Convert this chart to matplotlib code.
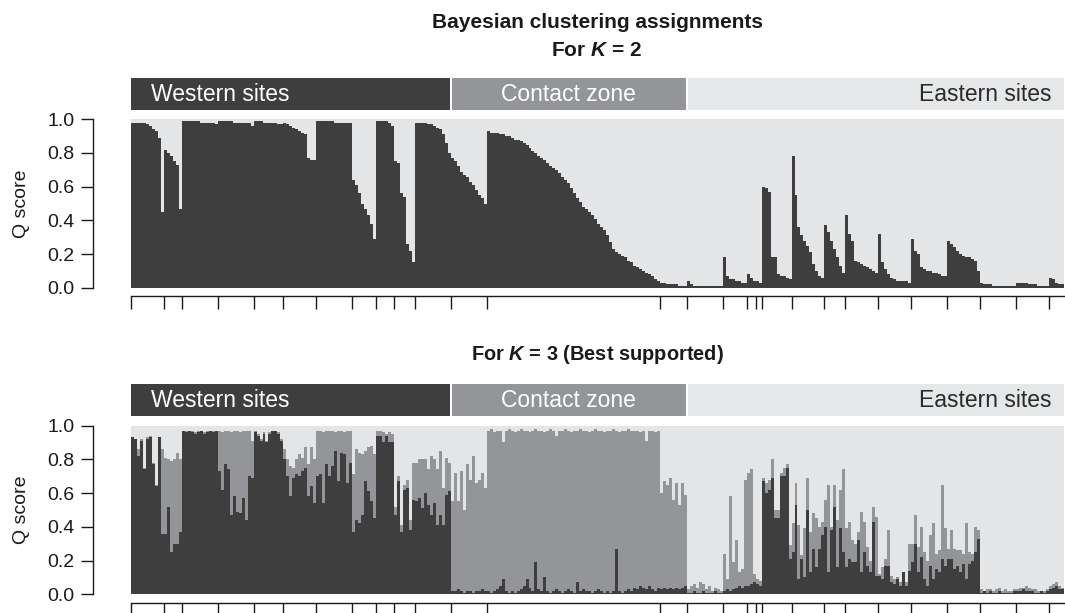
import numpy as np
import matplotlib
matplotlib.use("Agg")
import matplotlib.pyplot as plt
from matplotlib.patches import Rectangle

plt.rcParams['font.family'] = ['Liberation Sans', 'DejaVu Sans']
plt.rcParams['mathtext.fontset'] = 'custom'
plt.rcParams['mathtext.it'] = 'Liberation Sans:italic:bold'
plt.rcParams['mathtext.rm'] = 'Liberation Sans:bold'
plt.rcParams['mathtext.bf'] = 'Liberation Sans:bold'

# ---------------- data (one inner list per sampling site, west -> east) ----------
# K = 2 : membership (Q) in the western cluster
k2_west = [
    [0.98, 0.98, 0.98, 0.98, 0.98, 0.97, 0.96, 0.94, 0.93, 0.89, 0.45],
    [0.82, 0.80, 0.78, 0.75, 0.73, 0.47],
    [0.99, 0.99, 0.99, 0.99, 0.99, 0.99, 0.98, 0.98, 0.98, 0.98, 0.98, 0.97],
    [0.99, 0.99, 0.99, 0.99, 0.99, 0.98, 0.98, 0.98, 0.98, 0.98, 0.98, 0.96],
    [0.99, 0.99, 0.99, 0.98, 0.98, 0.98, 0.98, 0.98, 0.97, 0.97],
    [0.98, 0.97, 0.96, 0.95, 0.94, 0.93, 0.92, 0.91, 0.77, 0.76, 0.76],
    [0.99, 0.99, 0.99, 0.99, 0.99, 0.99, 0.98, 0.98, 0.98, 0.98, 0.98, 0.98],
    [0.64, 0.61, 0.56, 0.50, 0.47, 0.43, 0.38, 0.29],
    [0.99, 0.99, 0.99, 0.99, 0.98, 0.96],
    [0.75, 0.74, 0.56, 0.54, 0.26, 0.22, 0.15],
    [0.98, 0.98, 0.98, 0.98, 0.97, 0.97, 0.96, 0.95, 0.94, 0.91, 0.86, 0.80],
    [0.77, 0.75, 0.72, 0.69, 0.67, 0.66, 0.63, 0.61, 0.58, 0.55, 0.53, 0.50],
    [0.93, 0.92, 0.92, 0.92, 0.91, 0.91, 0.90, 0.90, 0.89, 0.88,
     0.88, 0.87, 0.86, 0.85, 0.83, 0.81, 0.80, 0.78, 0.77, 0.76,
     0.74, 0.72, 0.71, 0.70, 0.68, 0.66, 0.64, 0.62, 0.59, 0.56,
     0.53, 0.51, 0.48, 0.47, 0.45, 0.43, 0.41, 0.38, 0.36, 0.34,
     0.31, 0.27, 0.23, 0.21, 0.20, 0.19, 0.18, 0.16, 0.15, 0.13,
     0.12, 0.11, 0.10, 0.09, 0.08, 0.07, 0.05, 0.04],
    [0.03, 0.03, 0.02, 0.02, 0.02, 0.02, 0.01, 0.01, 0.01],
    [0.04, 0.02, 0.01, 0.01, 0.01, 0.01, 0.01, 0.01, 0.01, 0.01, 0.01, 0.01],
    [0.18, 0.07, 0.05, 0.05, 0.04, 0.04, 0.03, 0.03],
    [0.08, 0.06, 0.04],
    [0.04, 0.03],
    [0.60, 0.59, 0.57, 0.18, 0.18, 0.08, 0.07, 0.07, 0.06, 0.05],
    [0.78, 0.55, 0.36, 0.31, 0.28, 0.25, 0.21, 0.14, 0.10, 0.07, 0.06],
    [0.37, 0.33, 0.28, 0.23, 0.18, 0.13, 0.09],
    [0.43, 0.32, 0.28, 0.16, 0.15, 0.14, 0.13, 0.12, 0.11, 0.10, 0.09],
    [0.32, 0.15, 0.11, 0.08, 0.06, 0.05, 0.04, 0.04, 0.04, 0.04, 0.03],
    [0.29, 0.22, 0.20, 0.12, 0.11, 0.10, 0.10, 0.09, 0.09, 0.08, 0.07, 0.07],
    [0.28, 0.26, 0.24, 0.22, 0.20, 0.19, 0.18, 0.18, 0.17, 0.16, 0.10],
    [0.03, 0.02, 0.02, 0.02, 0.01, 0.01, 0.01, 0.01, 0.01, 0.01, 0.01, 0.01],
    [0.03, 0.03, 0.03, 0.03, 0.02, 0.02, 0.02, 0.01, 0.01, 0.01, 0.01],
    [0.06, 0.05, 0.03, 0.02, 0.02],
]

# K = 3 : membership in cluster 1 (western, dark)
k3_cluster1 = [
    [0.93, 0.92, 0.82, 0.91, 0.74, 0.92, 0.93, 0.77, 0.64, 0.93, 0.36],
    [0.36, 0.52, 0.25, 0.30, 0.30, 0.37],
    [0.97, 0.96, 0.97, 0.96, 0.95, 0.96, 0.97, 0.95, 0.96, 0.97, 0.96, 0.97],
    [0.73, 0.62, 0.77, 0.74, 0.47, 0.58, 0.49, 0.48, 0.57, 0.44, 0.70, 0.69],
    [0.96, 0.94, 0.91, 0.95, 0.90, 0.95, 0.97, 0.97, 0.95, 0.91],
    [0.80, 0.70, 0.58, 0.69, 0.71, 0.70, 0.73, 0.75, 0.58, 0.64, 0.54],
    [0.70, 0.71, 0.54, 0.77, 0.70, 0.76, 0.85, 0.67, 0.84, 0.83, 0.66, 0.78],
    [0.37, 0.44, 0.42, 0.47, 0.67, 0.61, 0.55, 0.45],
    [0.94, 0.94, 0.90, 0.94, 0.90, 0.90],
    [0.47, 0.67, 0.37, 0.62, 0.63, 0.38, 0.56],
    [0.55, 0.57, 0.51, 0.60, 0.53, 0.47, 0.54, 0.41, 0.47, 0.41, 0.59, 0.61],
    [0.02, 0.02, 0.03, 0.02, 0.01, 0.02, 0.02, 0.01, 0.02, 0.02, 0.03, 0.02],
    [0.02, 0.01, 0.02, 0.03, 0.05, 0.09, 0.02, 0.01, 0.02, 0.01,
     0.02, 0.03, 0.05, 0.09, 0.04, 0.02, 0.19, 0.03, 0.02, 0.10,
     0.02, 0.01, 0.02, 0.03, 0.02, 0.01, 0.02, 0.03, 0.02, 0.01,
     0.07, 0.02, 0.03, 0.02, 0.02, 0.01, 0.02, 0.03, 0.02, 0.01,
     0.02, 0.01, 0.02, 0.27, 0.02, 0.01, 0.02, 0.03, 0.02, 0.04,
     0.03, 0.05, 0.04, 0.03, 0.05, 0.03, 0.02, 0.04],
    [0.03, 0.04, 0.03, 0.04, 0.03, 0.04, 0.03, 0.04, 0.05],
    [0.01, 0.01, 0.02, 0.01, 0.01, 0.02, 0.01, 0.01, 0.01, 0.02, 0.01, 0.01],
    [0.02, 0.03, 0.02, 0.03, 0.04, 0.05, 0.04, 0.05],
    [0.05, 0.06, 0.07],
    [0.06, 0.05],
    [0.67, 0.60, 0.62, 0.69, 0.45, 0.45, 0.70, 0.70, 0.75, 0.21],
    [0.25, 0.53, 0.09, 0.21, 0.10, 0.50, 0.13, 0.27, 0.16, 0.27, 0.35],
    [0.40, 0.13, 0.38, 0.52, 0.16, 0.39, 0.25],
    [0.16, 0.21, 0.19, 0.19, 0.32, 0.13, 0.25, 0.17, 0.13, 0.43, 0.11],
    [0.11, 0.09, 0.17, 0.17, 0.07, 0.06, 0.09, 0.05, 0.13, 0.05, 0.14],
    [0.19, 0.30, 0.13, 0.22, 0.09, 0.05, 0.17, 0.09, 0.15, 0.13, 0.21, 0.17],
    [0.21, 0.21, 0.15, 0.17, 0.13, 0.18, 0.09, 0.18, 0.20, 0.25, 0.33],
    [0.01, 0.02, 0.01, 0.02, 0.01, 0.01, 0.02, 0.01, 0.01, 0.01, 0.01, 0.02],
    [0.02, 0.02, 0.03, 0.02, 0.02, 0.02, 0.01, 0.01, 0.02, 0.01, 0.02],
    [0.03, 0.04, 0.05, 0.03, 0.03],
]

# K = 3 : cumulative membership in clusters 1 + 2 (top of the mid-grey band)
k3_cluster1_2 = [
    [0.93, 0.92, 0.86, 0.92, 0.75, 0.93, 0.94, 0.78, 0.65, 0.93, 0.86],
    [0.81, 0.80, 0.79, 0.80, 0.84, 0.80],
    [0.97, 0.97, 0.97, 0.97, 0.96, 0.97, 0.97, 0.96, 0.97, 0.97, 0.97, 0.97],
    [0.97, 0.96, 0.97, 0.97, 0.96, 0.97, 0.97, 0.96, 0.97, 0.97, 0.97, 0.91],
    [0.97, 0.95, 0.92, 0.96, 0.91, 0.96, 0.97, 0.97, 0.96, 0.92],
    [0.86, 0.80, 0.76, 0.75, 0.80, 0.83, 0.81, 0.87, 0.77, 0.87, 0.80],
    [0.97, 0.97, 0.96, 0.97, 0.97, 0.97, 0.96, 0.97, 0.97, 0.96, 0.97, 0.97],
    [0.71, 0.86, 0.84, 0.83, 0.85, 0.87, 0.88, 0.83],
    [0.97, 0.97, 0.96, 0.95, 0.96, 0.95],
    [0.52, 0.70, 0.41, 0.65, 0.68, 0.44, 0.78],
    [0.78, 0.80, 0.80, 0.80, 0.74, 0.82, 0.80, 0.74, 0.85, 0.63, 0.81, 0.78],
    [0.55, 0.72, 0.55, 0.73, 0.50, 0.77, 0.68, 0.82, 0.66, 0.68, 0.72, 0.63],
    [0.97, 0.98, 0.96, 0.97, 0.97, 0.90, 0.97, 0.98, 0.97, 0.96,
     0.97, 0.98, 0.97, 0.97, 0.96, 0.97, 0.98, 0.97, 0.97, 0.96,
     0.97, 0.98, 0.97, 0.94, 0.97, 0.97, 0.98, 0.97, 0.96, 0.97,
     0.97, 0.98, 0.97, 0.97, 0.96, 0.97, 0.98, 0.97, 0.97, 0.96,
     0.97, 0.97, 0.98, 0.97, 0.96, 0.97, 0.97, 0.98, 0.97, 0.97,
     0.97, 0.96, 0.97, 0.91, 0.97, 0.97, 0.96, 0.97],
    [0.60, 0.67, 0.65, 0.69, 0.56, 0.66, 0.53, 0.66, 0.59],
    [0.03, 0.05, 0.06, 0.04, 0.07, 0.06, 0.03, 0.05, 0.02, 0.04, 0.03, 0.02],
    [0.24, 0.09, 0.58, 0.19, 0.32, 0.13, 0.15, 0.68],
    [0.72, 0.74, 0.12],
    [0.09, 0.08],
    [0.69, 0.66, 0.68, 0.80, 0.50, 0.50, 0.72, 0.75, 0.77, 0.29],
    [0.42, 0.66, 0.41, 0.23, 0.39, 0.69, 0.37, 0.48, 0.45, 0.40, 0.43],
    [0.56, 0.65, 0.40, 0.65, 0.44, 0.62, 0.74],
    [0.39, 0.43, 0.32, 0.30, 0.37, 0.49, 0.43, 0.28, 0.20, 0.52, 0.46],
    [0.12, 0.16, 0.21, 0.38, 0.11, 0.09, 0.10, 0.07, 0.13, 0.07, 0.30],
    [0.30, 0.47, 0.28, 0.40, 0.25, 0.20, 0.35, 0.42, 0.24, 0.26, 0.65, 0.39],
    [0.27, 0.38, 0.27, 0.26, 0.26, 0.24, 0.42, 0.25, 0.24, 0.40, 0.38],
    [0.03, 0.02, 0.03, 0.03, 0.02, 0.03, 0.04, 0.02, 0.03, 0.02, 0.02, 0.03],
    [0.03, 0.04, 0.04, 0.05, 0.04, 0.03, 0.03, 0.02, 0.02, 0.02, 0.03],
    [0.05, 0.06, 0.07, 0.05, 0.04],
]

# regions: label, number of sites
regions = ["Western sites", "Contact zone", "Eastern sites"]
region_site_counts = [11, 3, 14]
y_ticks = [0.0, 0.2, 0.4, 0.6, 0.8, 1.0]

# ---------------- styling ----------------
DARK = '#3e3e3e'
MID = '#939598'
LIGHT = '#e4e5e7'
HDR_LIGHT = '#e6e7e8'
W, H = 1065, 613

site_sizes = [len(s) for s in k2_west]
N = sum(site_sizes)
bounds = np.concatenate([[0], np.cumsum(site_sizes)])
edges = np.arange(N + 1)

k2 = np.concatenate([np.array(s) for s in k2_west])
k3a = np.concatenate([np.array(s) for s in k3_cluster1])
k3b = np.concatenate([np.array(s) for s in k3_cluster1_2])

fig = plt.figure(figsize=(W / 100, H / 100), dpi=100)

X0, X1 = 131.0, 1063.5


def add_ax(top_px, bot_px):
    return fig.add_axes([X0 / W, 1 - bot_px / H, (X1 - X0) / W, (bot_px - top_px) / H])


def style_panel(ax):
    ax.set_xlim(0, N)
    ax.set_ylim(0, 1)
    ax.set_facecolor(LIGHT)
    for s in ['top', 'right']:
        ax.spines[s].set_visible(False)
    ax.spines['left'].set_position(('outward', 27.5))
    ax.spines['left'].set_bounds(0, 1)
    ax.spines['bottom'].set_position(('outward', 6))
    ax.spines['bottom'].set_bounds(0, N)
    for s in ['left', 'bottom']:
        ax.spines[s].set_linewidth(1.0)
        ax.spines[s].set_color('#1a1a1a')
    ax.set_yticks(y_ticks)
    ax.set_yticklabels([f"{v:.1f}" for v in y_ticks])
    ax.set_xticks(bounds[:-1])
    ax.set_xticklabels([])
    ax.tick_params(axis='y', direction='out', length=9, width=1.0, pad=4,
                   labelsize=14, color='#1a1a1a', labelcolor='#1a1a1a')
    ax.tick_params(axis='x', direction='out', length=9.5, width=1.0, color='#1a1a1a')


def header(top_px, bot_px):
    hx = add_ax(top_px, bot_px)
    hx.set_xlim(0, N)
    hx.set_ylim(0, 1)
    hx.axis('off')
    gap = 1.0 * N / (X1 - X0)
    reg_bounds = [0]
    c = 0
    for n in region_site_counts:
        c += n
        reg_bounds.append(bounds[c])
    cols = [DARK, MID, HDR_LIGHT]
    for i, lab in enumerate(regions):
        a = reg_bounds[i] + (gap if i > 0 else 0)
        b = reg_bounds[i + 1] - (gap if i < 2 else 0)
        hx.add_patch(Rectangle((a, 0), b - a, 1, facecolor=cols[i], edgecolor='none'))
    fs = 16.5
    hx.text(reg_bounds[0] + 20 * N / (X1 - X0), 0.47, regions[0], color='white',
            fontsize=fs, ha='left', va='center')
    hx.text((reg_bounds[1] + reg_bounds[2]) / 2, 0.47, regions[1], color='white',
            fontsize=fs, ha='center', va='center')
    hx.text(reg_bounds[3] - 12 * N / (X1 - X0), 0.47, regions[2], color='#2a2a2a',
            fontsize=fs, ha='right', va='center')


# ---- K = 2 panel ----
ax1 = add_ax(119.3, 287.7)
style_panel(ax1)
ax1.stairs(k2, edges, baseline=0, fill=True, color=DARK, linewidth=0)
header(78, 110)

# ---- K = 3 panel ----
ax2 = add_ax(425.5, 594.3)
style_panel(ax2)
ax2.stairs(k3b, edges, baseline=0, fill=True, color=MID, linewidth=0)
ax2.stairs(k3a, edges, baseline=0, fill=True, color=DARK, linewidth=0)
header(384, 416)

# ---- titles and labels ----
fig.text(598 / W, 1 - 22 / H, "Bayesian clustering assignments", ha='center', va='center',
         fontsize=15, fontweight='bold', color='#1a1a1a')
fig.text(597 / W, 1 - 50 / H, r"For $K$ = 2", ha='center', va='center',
         fontsize=15, fontweight='bold', color='#1a1a1a')
fig.text(597 / W, 1 - 355 / H, r"For $K$ = 3 (Best supported)", ha='center', va='center',
         fontsize=14.4, fontweight='bold', color='#1a1a1a')
fig.text(22 / W, 1 - 204 / H, "Q score", rotation=90, ha='center', va='center',
         fontsize=14, color='#1a1a1a')
fig.text(22 / W, 1 - 510 / H, "Q score", rotation=90, ha='center', va='center',
         fontsize=14, color='#1a1a1a')

fig.savefig("out.png", dpi=100, facecolor='white')
